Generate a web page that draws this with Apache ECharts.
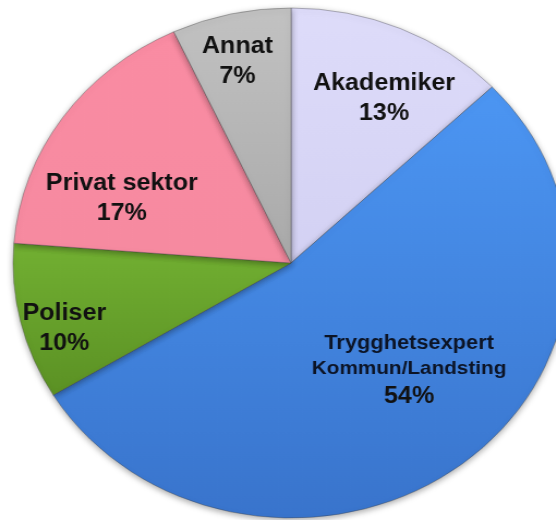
<!DOCTYPE html>
<html>
<head>
<meta charset="utf-8">
<script src="https://cdn.jsdelivr.net/npm/echarts@6/dist/echarts.min.js"></script>
<style>
  html, body { margin: 0; padding: 0; background: #fff; overflow: hidden; }
  /* the original picture is stretched sideways, so the pie is an ellipse */
  #pieDiv { width: 510px; height: 520px; transform: scaleX(1.09); transform-origin: 0 0; }
</style>
</head>
<body>
<div id="pieDiv"></div>
<script>
// categories, clockwise from 12 o'clock
const categories = ['Akademiker', 'Trygghetsexpert\nKommun/Landsting', 'Poliser', 'Privat sektor', 'Annat'];
// share in percent
const shares = [13, 54, 10, 17, 7];
// slice colours (top, bottom of gradient)
const topColors = ['#dedcfa', '#4c96f3', '#72b032', '#fa8ca3', '#c2c2c2'];
const bottomColors = ['#d3d1f3', '#3974cc', '#5b9124', '#f68aa0', '#a9a9a9'];

let pie = echarts.init(document.getElementById('pieDiv'));

// nudges for the labels, the original puts them by hand
const labelNudge = [[34, -44], [29, 5], [-81, 35], [-48, 10], [-21, -74]];

let pieData = categories.map((name, i) => ({
	name: name,
	value: shares[i],
	itemStyle: {
		color: {
			type: 'linear', x: 0, y: 0, x2: 0, y2: 1,
			colorStops: [
				{ offset: 0, color: topColors[i] },
				{ offset: 1, color: bottomColors[i] }
			]
		}
	},
	label: { offset: labelNudge[i] }
}));

let pieOption = {
	animation: false,
	series: [{
		type: 'pie',
		center: [267, 263],
		radius: 255,
		startAngle: 90,
		clockwise: true,
		avoidLabelOverlap: false,
		itemStyle: {
			borderColor: 'rgba(60,60,60,0.35)',
			borderWidth: 1,
			shadowBlur: 6,
			shadowOffsetY: 2,
			shadowColor: 'rgba(0,0,0,0.35)'
		},
		label: {
			show: true,
			position: 'inside',
			color: '#111',
			fontFamily: 'Liberation Sans, Arial, sans-serif',
			fontWeight: 'bold',
			formatter: (p) => {
				const parts = p.name.split('\n')
				if (parts.length > 1) {
					return '{t|' + parts[0] + '}\n{s|' + parts[1] + '}\n{p|' + p.value + '%}'
				}
				return '{n|' + p.name + '}\n{p|' + p.value + '%}'
			},
			rich: {
				n: { fontSize: 23, fontWeight: 'bold', color: '#111', lineHeight: 30, fontFamily: 'Liberation Sans, Arial, sans-serif' },
				p: { fontSize: 23, fontWeight: 'bold', color: '#111', lineHeight: 30, fontFamily: 'Liberation Sans, Arial, sans-serif' },
				t: { fontSize: 20, fontWeight: 'bold', color: '#0c1426', lineHeight: 25, fontFamily: 'Liberation Sans, Arial, sans-serif' },
				s: { fontSize: 19, fontWeight: 'bold', color: '#0c1426', lineHeight: 26, fontFamily: 'Liberation Sans, Arial, sans-serif' }
			}
		},
		labelLine: { show: false },
		data: pieData
	}]
};

pie.setOption(pieOption)
</script>
</body>
</html>
